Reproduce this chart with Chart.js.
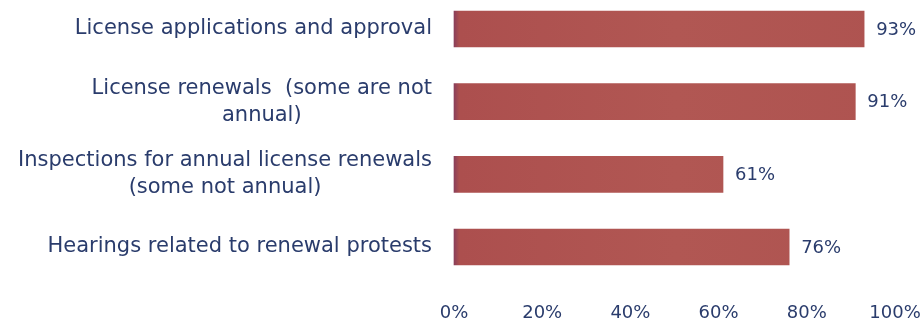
<!DOCTYPE html>
<html>
<head>
<meta charset="utf-8">
<script src="https://cdn.jsdelivr.net/npm/chart.js@4"></script>
<style>
  html, body { margin: 0; padding: 0; background: #fff; }
  #wrap { width: 922px; height: 324px; }
</style>
</head>
<body>
<div id="wrap"><canvas id="renewalChart"></canvas></div>
<script>
const categories = [
    ['License applications and approval'],
    ['License renewals  (some are not', 'annual)'],
    ['Inspections for annual license renewals', '(some not annual)'],
    ['Hearings related to renewal protests']
];
const percentages = [93, 91, 61, 76];
const xTicks = [0, 20, 40, 60, 80, 100];

const TEXT_COLOR = '#2a3c6c';
const FONT = '"DejaVu Sans", sans-serif';

// category labels, right aligned as a block but centred line by line
const categoryLabels = {
    id: 'categoryLabels',
    afterDraw(chart) {
        const ctx = chart.ctx;
        const yScale = chart.scales.y;
        const right = chart.chartArea.left - 22;
        const lineHeight = 27;
        ctx.save();
        ctx.font = '21px ' + FONT;
        ctx.fillStyle = TEXT_COLOR;
        ctx.textAlign = 'center';
        ctx.textBaseline = 'middle';
        categories.forEach((lines, i) => {
            const y = yScale.getPixelForValue(i);
            const w = Math.max(...lines.map(l => ctx.measureText(l).width));
            const cx = right - w / 2;
            lines.forEach((line, j) => {
                ctx.fillText(line, cx, y + (j - (lines.length - 1) / 2) * lineHeight);
            });
        });
        ctx.restore();
    }
};

// value labels at the end of each bar
const valueLabels = {
    id: 'valueLabels',
    afterDatasetsDraw(chart) {
        const ctx = chart.ctx;
        const meta = chart.getDatasetMeta(0);
        ctx.save();
        ctx.font = '18px ' + FONT;
        ctx.fillStyle = TEXT_COLOR;
        ctx.textAlign = 'left';
        ctx.textBaseline = 'middle';
        meta.data.forEach((bar, i) => {
            ctx.fillText(percentages[i] + '%', bar.x + 12, bar.y + 1);
        });
        ctx.restore();
    }
};

function barFill(context) {
    const area = context.chart.chartArea;
    if (!area) return '#b0544f';
    const g = context.chart.ctx.createLinearGradient(area.left, 0, area.right, 0);
    g.addColorStop(0, '#8a3f5a');
    g.addColorStop(0.012, '#ac4f4e');
    g.addColorStop(0.5, '#b15753');
    g.addColorStop(1, '#ae5350');
    return g;
}

new Chart(document.getElementById('renewalChart'), {
    type: 'bar',
    data: {
        labels: categories,
        datasets: [{
            data: percentages,
            backgroundColor: barFill,
            borderWidth: 0,
            barThickness: 36,
            clip: false
        }]
    },
    options: {
        indexAxis: 'y',
        responsive: true,
        maintainAspectRatio: false,
        animation: false,
        layout: { padding: { top: 29, right: 27, left: 0, bottom: 0 } },
        plugins: {
            legend: { display: false },
            tooltip: { enabled: false }
        },
        scales: {
            x: {
                min: 0,
                max: 100,
                afterBuildTicks: scale => { scale.ticks = xTicks.map(v => ({ value: v })); },
                afterFit: scale => {
                    scale.height = 77;
                    scale.paddingLeft = 0;
                    scale.paddingRight = 0;
                },
                grid: { display: false, drawTicks: false },
                border: { display: false },
                ticks: {
                    padding: 56,
                    color: TEXT_COLOR,
                    font: { family: FONT, size: 18 },
                    callback: v => v + '%'
                }
            },
            y: {
                offset: false,
                afterFit: scale => { scale.width = 454; },
                grid: { display: false, drawTicks: false },
                border: { display: false },
                ticks: { display: false }
            }
        }
    },
    plugins: [categoryLabels, valueLabels]
});
</script>
</body>
</html>
